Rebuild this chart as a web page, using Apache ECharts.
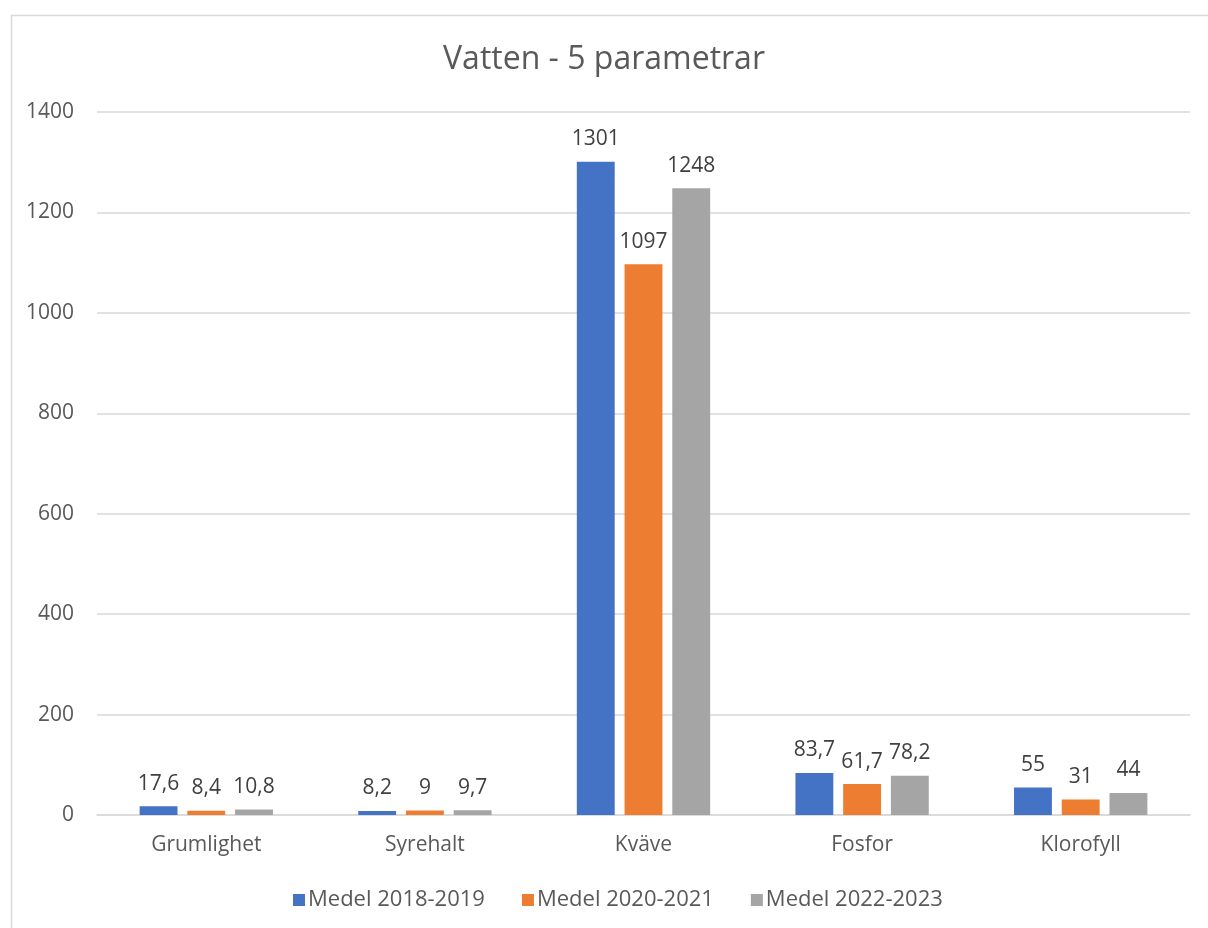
<!DOCTYPE html>
<html>
<head>
<meta charset="utf-8">
<script src="https://cdn.jsdelivr.net/npm/echarts@6/dist/echarts.min.js"></script>
<style>
  html, body { margin: 0; padding: 0; background: #fff; }
  #myChart { width: 1208px; height: 928px; }
</style>
</head>
<body>
<div id="myChart"></div>
<script>
const categories = ["Grumlighet", "Syrehalt", "Kväve", "Fosfor", "Klorofyll"];
const seriesNames = ["Medel 2018-2019", "Medel 2020-2021", "Medel 2022-2023"];
const medel2018 = [17.6, 8.2, 1301, 83.7, 55];
const medel2020 = [8.4, 9, 1097, 61.7, 31];
const medel2022 = [10.8, 9.7, 1248, 78.2, 44];
const colors = ["#4472C4", "#ED7D31", "#A5A5A5"];

const font = "'Open Sans', sans-serif";
const myChart = echarts.init(document.getElementById("myChart"), null, { width: 1208, height: 928 });

const makeSeries = (name, data, color) => ({
    name: name,
    type: "bar",
    data: data,
    barGap: "26%",
    barCategoryGap: "39%",
    itemStyle: { color: color },
    label: {
        show: true,
        position: "top",
        distance: 12,
        color: "#404040",
        fontSize: 21,
        fontFamily: font,
        formatter: (p) => String(p.value).replace(".", ","),
    },
});

const options = {
    animation: false,
    graphic: [{
        type: "rect",
        left: 9, top: 13,
        shape: { width: 1220, height: 940 },
        style: { fill: "none", stroke: "#d9d9d9", lineWidth: 1.5 },
        silent: true,
    }],
    title: {
        text: "Vatten - 5 parametrar",
        left: "center",
        top: 39,
        textStyle: { color: "#595959", fontSize: 32, fontWeight: "normal", fontFamily: font },
    },
    legend: {
        bottom: 12,
        left: 288,
        itemWidth: 12,
        itemHeight: 12,
        itemGap: 37,
        icon: "rect",
        textStyle: { color: "#595959", fontSize: 22, fontFamily: font, padding: [0, 0, 0, -2] },
        data: seriesNames,
    },
    grid: { left: 97, right: 18, top: 112, bottom: 113, containLabel: false },
    xAxis: {
        type: "category",
        data: categories,
        axisLine: { lineStyle: { color: "#d9d9d9", width: 1.5 } },
        axisTick: { show: false },
        axisLabel: { color: "#595959", fontSize: 21, fontFamily: font, margin: 20 },
    },
    yAxis: {
        type: "value",
        min: 0,
        max: 1400,
        interval: 200,
        axisLine: { show: false },
        axisTick: { show: false },
        splitLine: { lineStyle: { color: "#d9d9d9", width: 1.5 } },
        axisLabel: { color: "#595959", fontSize: 21, fontFamily: font, margin: 23, formatter: (v) => String(v) },
    },
    series: [
        makeSeries(seriesNames[0], medel2018, colors[0]),
        makeSeries(seriesNames[1], medel2020, colors[1]),
        makeSeries(seriesNames[2], medel2022, colors[2]),
    ],
};

myChart.setOption(options);
</script>
</body>
</html>
